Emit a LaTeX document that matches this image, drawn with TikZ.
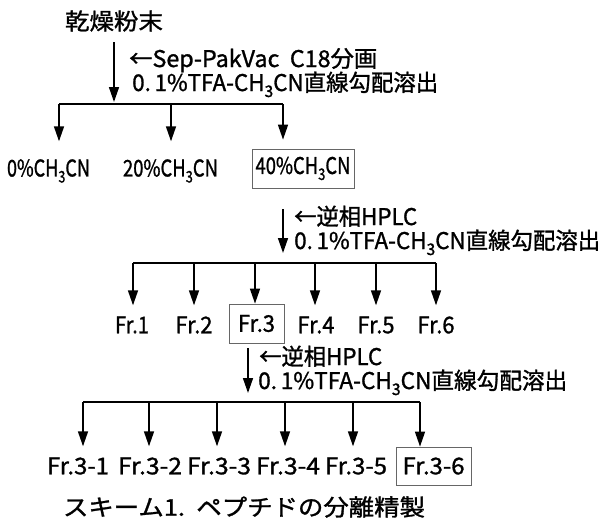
\documentclass[tikz,border=0pt]{standalone}
\usepackage{fontspec}
\setmainfont{Noto Sans CJK JP}
\newfontfamily\heavy[FakeBold=1.2]{Noto Sans CJK JP}
\usepackage{graphicx}
\usetikzlibrary{arrows.meta}
\newcommand\fw[2]{\resizebox{#1pt}{\height}{#2}}
\newcommand\chcn{CH\raisebox{-6pt}{\fontsize{16}{16}\selectfont 3}CN}
\begin{document}
\begin{tikzpicture}[x=1pt,y=-1pt,
  txt/.style={inner sep=0pt, font=\heavy\fontsize{23}{26}\selectfont},
  side/.style={txt, anchor=west, text height=15pt, text depth=5pt},
  lbl/.style={txt, minimum height=39pt},
  boxed/.style={lbl, draw=black!60, line width=0.8pt},
  arr/.style={line width=1.5pt, -{Triangle[length=15pt,width=10pt]}},
  bus/.style={line width=1.5pt}]
\useasboundingbox (0,0) rectangle (604,523);
% title
\node[txt, minimum height=42pt] (title) at (114,21) {\fw{98}{乾燥粉末}};
\node[side] (l1a) at (129,62) {\fw{248}{←Sep-PakVac\ \ C18分画}};
\node[side] (l1b) at (132,86) {\fw{306}{0.\,1\%TFA-\chcn 直線勾配溶出}};
% row 1
\coordinate (b1a) at (59,104);
\coordinate (b1b) at (171,104);
\coordinate (b1c) at (283,104);
\node[lbl] (n0) at (48.5,171) {\fw{83}{0\%\chcn}};
\node[lbl] (n20) at (170.5,171) {\fw{95}{20\%\chcn}};
\node[boxed, minimum width=102pt, minimum height=39pt] (n40) at (303,168.5) {\fw{95}{40\%\chcn}};
\draw[arr, shorten >=2pt] (title.south) -- (title.south |- b1a);
\draw[bus] (b1a) -- (b1c);
\draw[arr, shorten >=10pt] (b1a) -- (b1a |- n0.north);
\draw[arr, shorten >=10pt] (b1b) -- (b1b |- n20.north);
\draw[arr, shorten >=9pt] (b1c) -- (b1c |- n40.north);
% step 2
\coordinate (a2) at (283,263);
\draw[arr, shorten <=21pt, shorten >=10pt] (b1c |- n40.south) -- (a2);
\node[side] (l2a) at (294,220) {\fw{123}{←逆相HPLC}};
\node[side] (l2b) at (294,244) {\fw{306}{0.\,1\%TFA-\chcn 直線勾配溶出}};
\coordinate (c1) at (133,263);
\coordinate (c2) at (194,263);
\coordinate (c3) at (255,263);
\coordinate (c4) at (315,263);
\coordinate (c5) at (376,263);
\coordinate (c6) at (436,263);
\draw[bus] (c1) -- (c6);
\node[lbl] (f1) at (132,325) {\fw{34}{Fr.1}};
\node[lbl] (f2) at (194,325) {\fw{37}{Fr.2}};
\node[boxed, minimum width=55pt] (f3) at (256.5,323.5) {\fw{37}{Fr.3}};
\node[lbl] (f4) at (316,325) {\fw{37}{Fr.4}};
\node[lbl] (f5) at (376,325) {\fw{37}{Fr.5}};
\node[lbl] (f6) at (436,325) {\fw{37}{Fr.6}};
\draw[arr] (c1) -- (c1 |- f1.north);
\draw[arr] (c2) -- (c2 |- f2.north);
\draw[arr] (c3) -- (c3 |- f3.north);
\draw[arr] (c4) -- (c4 |- f4.north);
\draw[arr] (c5) -- (c5 |- f5.north);
\draw[arr] (c6) -- (c6 |- f6.north);
% step 3
\coordinate (a3) at (248,402);
\draw[arr, shorten <=5pt, shorten >=9pt] (a3 |- f3.south) -- (a3);
\node[side] (l3a) at (259,360) {\fw{123}{←逆相HPLC}};
\node[side] (l3b) at (258,384) {\fw{309}{0.\,1\%TFA-\chcn 直線勾配溶出}};
\coordinate (d1) at (83,402);
\coordinate (d2) at (149,402);
\coordinate (d3) at (217,402);
\coordinate (d4) at (285,402);
\coordinate (d5) at (353,402);
\coordinate (d6) at (420,402);
\draw[bus] (d1) -- (d6);
\node[lbl] (g1) at (78,466) {\fw{62}{Fr.3-1}};
\node[lbl] (g2) at (150,466) {\fw{64}{Fr.3-2}};
\node[lbl] (g3) at (219,466) {\fw{64}{Fr.3-3}};
\node[lbl] (g4) at (288,466) {\fw{64}{Fr.3-4}};
\node[lbl] (g5) at (356,466) {\fw{62}{Fr.3-5}};
\node[boxed, minimum width=75pt, minimum height=38pt] (g6) at (433.5,466) {\fw{62}{Fr.3-6}};
\draw[arr] (d1) -- (d1 |- g1.north);
\draw[arr] (d2) -- (d2 |- g2.north);
\draw[arr] (d3) -- (d3 |- g3.north);
\draw[arr] (d4) -- (d4 |- g4.north);
\draw[arr] (d5) -- (d5 |- g5.north);
\draw[arr] (d6) -- (d6 |- g6.north);
% caption
\node[txt, font=\heavy\fontsize{23}{26}\selectfont] (cap) at (244,507) {\fw{362}{スキーム1.\ \ ペプチドの分離精製}};
\end{tikzpicture}
\end{document}
